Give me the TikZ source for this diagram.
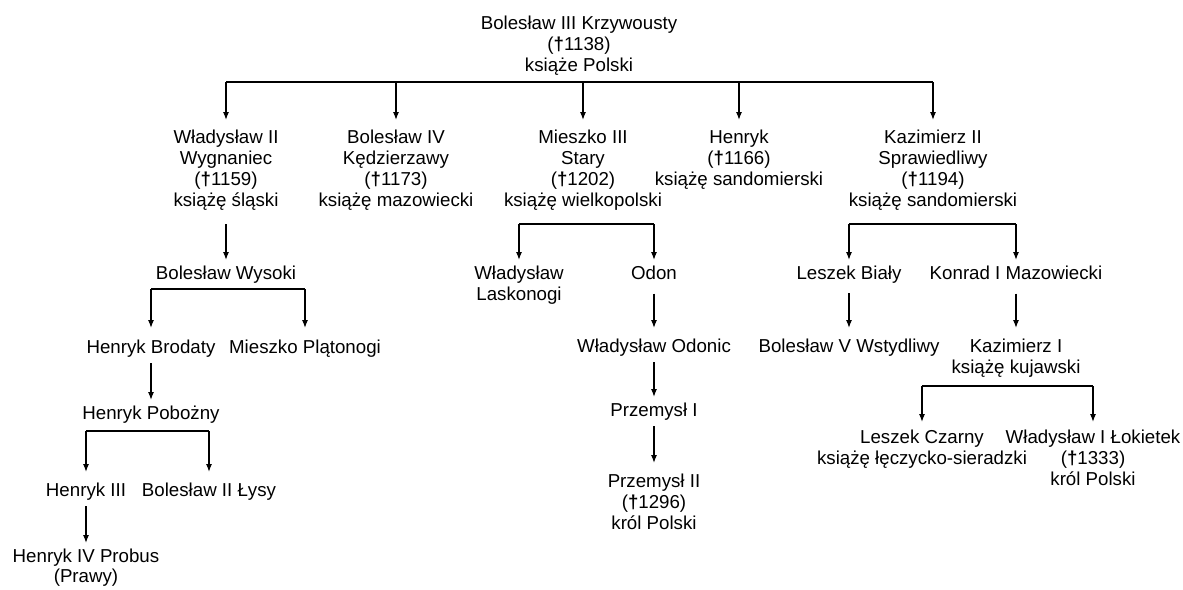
\documentclass[tikz,border=0pt]{standalone}
\usepackage{fontspec}
\setmainfont{Liberation Sans}
\usetikzlibrary{arrows.meta}
\tikzset{
  person/.style={align=center, inner xsep=2pt, inner ysep=6pt, outer sep=0pt, anchor=north,
    font=\fontsize{18.7}{21}\selectfont},
  arr/.style={line width=1.2pt, -{Latex[length=8pt,width=6pt]}},
  busline/.style={line width=1.4pt},
}
\newcommand{\dg}{{\bfseries †}}
\begin{document}
\begin{tikzpicture}[x=1pt,y=-1pt]
\useasboundingbox (0,0) rectangle (1183,589);
% level 0
\node[person] (top) at (579,10) {Bolesław III Krzywousty\\(\dg1138)\\książe Polski};
% level 1
\node[person] (wlad) at (226,124) {Władysław II\\Wygnaniec\\(\dg1159)\\książę śląski};
\node[person] (bol4) at (396,124) {Bolesław IV\\Kędzierzawy\\(\dg1173)\\książę mazowiecki};
\node[person] (mieszko) at (583,124) {Mieszko III\\Stary\\(\dg1202)\\książę wielkopolski};
\node[person] (henryk) at (739,124) {Henryk\\(\dg1166)\\książę sandomierski};
\node[person] (kaz) at (933,124) {Kazimierz II\\Sprawiedliwy\\(\dg1194)\\książę sandomierski};
% level 2
\node[person] (bwys) at (226,260) {Bolesław Wysoki};
\node[person] (lasko) at (519,260) {Władysław\\Laskonogi};
\node[person] (odon) at (654,260) {Odon};
\node[person] (leszekb) at (849,260) {Leszek Biały};
\node[person] (konrad) at (1016,260) {Konrad I Mazowiecki};
% level 3
\node[person] (hbrod) at (151,334) {Henryk Brodaty};
\node[person] (mplat) at (305,334) {Mieszko Plątonogi};
\node[person] (wodonic) at (654,333) {Władysław Odonic};
\node[person] (b5) at (849,333) {Bolesław V Wstydliwy};
\node[person] (kaz1) at (1016,333) {Kazimierz I\\książę kujawski};
% further
\node[person] (hpob) at (151,400) {Henryk Pobożny};
\node[person] (h3) at (86,477) {Henryk III};
\node[person] (b2) at (209,477) {Bolesław II Łysy};
\node[person, font=\fontsize{18.7}{20}\selectfont] (h4) at (86,543) {Henryk IV Probus\\(Prawy)};
\node[person] (prz1) at (654,397) {Przemysł I};
\node[person] (prz2) at (654,468) {Przemysł II\\(\dg1296)\\król Polski};
\node[person] (lczarny) at (922,424) {Leszek Czarny\\książę łęczycko-sieradzki};
\node[person] (lokietek) at (1093,424) {Władysław I Łokietek\\(\dg1333)\\król Polski};
% bus coordinates
\coordinate (b0) at (0,82);
\coordinate (bm) at (0,224);
\coordinate (bk) at (0,224);
\coordinate (bw) at (0,289);
\coordinate (bp) at (0,431);
\coordinate (bz) at (0,386);
% top bus
\draw[busline] (b0 -| wlad) -- (b0 -| kaz);
\foreach \c in {wlad,bol4,mieszko,henryk,kaz}
  \draw[arr, shorten >=4pt] (b0 -| \c) -- (\c.north);
% Mieszko bus
\draw[busline] (bm -| lasko) -- (bm -| odon);
\draw[arr] (bm -| lasko) -- (lasko.north);
\draw[arr] (bm -| odon) -- (odon.north);
% Kazimierz bus
\draw[busline] (bk -| leszekb) -- (bk -| konrad);
\draw[arr] (bk -| leszekb) -- (leszekb.north);
\draw[arr] (bk -| konrad) -- (konrad.north);
% Boleslaw Wysoki bus
\draw[busline] (bw -| hbrod) -- (bw -| mplat);
\draw[arr, shorten >=6pt] (bw -| hbrod) -- (hbrod.north);
\draw[arr, shorten >=6pt] (bw -| mplat) -- (mplat.north);
% Henryk Pobozny bus
\draw[busline] (bp -| h3) -- (bp -| b2);
\draw[arr, shorten >=5pt] (bp -| h3) -- (h3.north);
\draw[arr, shorten >=5pt] (bp -| b2) -- (b2.north);
% Kazimierz I bus
\draw[busline] (bz -| lczarny) -- (bz -| lokietek);
\draw[arr, shorten >=2pt] (bz -| lczarny) -- (lczarny.north);
\draw[arr, shorten >=2pt] (bz -| lokietek) -- (lokietek.north);
% single descents
\draw[arr, shorten <=8pt] (wlad.south) -- (bwys.north);
\draw[arr] (hbrod.south) -- (hpob.north);
\draw[arr] (h3.south) -- (h4.north);
\draw[arr, shorten <=8pt, shorten >=5pt] (odon.south) -- (wodonic.north);
\draw[arr] (wodonic.south) -- (prz1.north);
\draw[arr, shorten >=5pt] (prz1.south) -- (prz2.north);
\draw[arr, shorten <=4pt, shorten >=5pt] (leszekb.south) -- (b5.north);
\draw[arr, shorten <=8pt, shorten >=5pt] (konrad.south) -- (kaz1.north);
\end{tikzpicture}
\end{document}
